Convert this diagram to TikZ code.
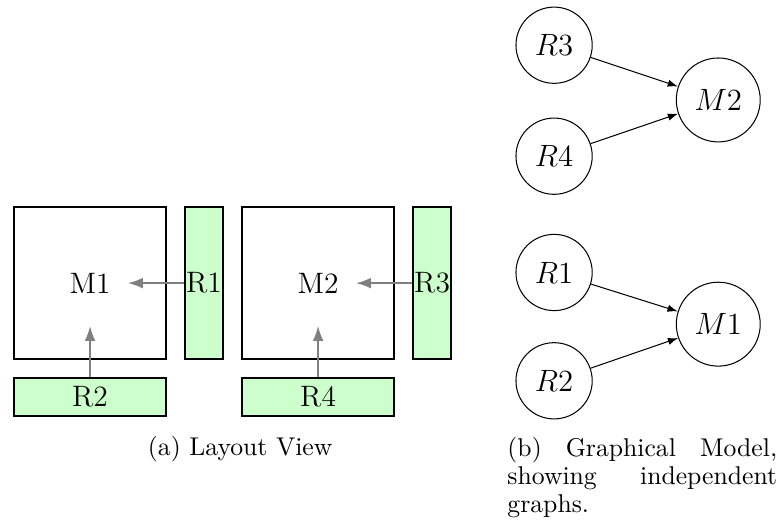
\documentclass[tikz,border=0pt]{standalone}
\usetikzlibrary{arrows.meta,positioning}
\definecolor{resGreen}{HTML}{CCFFCC}
\definecolor{flowGray}{HTML}{808080}
\tikzset{
  lay box/.style={draw=black, line width=0.7pt, minimum width=4*0.52cm, minimum height=4*0.52cm, inner sep=0pt, font=\fontsize{11.5}{13}\selectfont},
  lay vbar/.style={draw=black, fill=resGreen, line width=0.7pt, minimum width=0.52cm, minimum height=4*0.52cm, inner sep=0pt, font=\fontsize{11.5}{13}\selectfont},
  lay hbar/.style={draw=black, fill=resGreen, line width=0.7pt, minimum width=4*0.52cm, minimum height=0.52cm, inner sep=0pt, font=\fontsize{11.5}{13}\selectfont},
  lay flow/.style={draw=flowGray, line width=0.6pt, -{Latex[length=5.8pt, width=4.2pt]}},
  gm node/.style={circle, draw=black, line width=0.4pt, inner sep=4.6pt, font=\fontsize{11.5}{13}\selectfont},
  gm edge/.style={draw=black, line width=0.4pt, -{Latex[length=4pt, width=2.8pt]}},
  sub caption/.style={font=\fontsize{10}{10.9}\selectfont, inner sep=0pt},
}
\begin{document}
\begin{tikzpicture}[x=0.52cm, y=0.52cm]
  \useasboundingbox (-0.37,-4.29) rectangle (20.26,9.45);
  % (a) layout: two modules, each with a side and a bottom resource
  \node[lay box] (M1box) at (2,2) {M1};
  \node[lay vbar] (R1bar) at (5,2) {R1};
  \node[lay hbar] (R2bar) at (2,-1) {R2};
  \node[lay box] (M2box) at (8,2) {M2};
  \node[lay vbar] (R3bar) at (11,2) {R3};
  \node[lay hbar] (R4bar) at (8,-1) {R4};
  \coordinate (M1side) at (3,2);
  \coordinate (M1below) at (2,0.87);
  \coordinate (M2side) at (9,2);
  \coordinate (M2below) at (8,0.87);
  \draw[lay flow] (R1bar.west) -- (M1side);
  \draw[lay flow] (R2bar.north) -- (M1below);
  \draw[lay flow] (R3bar.west) -- (M2side);
  \draw[lay flow] (R4bar.north) -- (M2below);
  \node[sub caption, anchor=base] (capA) at (5.95,-2.53) {(a) Layout View};
  % (b) graphical model: one graph per module
  \node[gm node] (gR3) at (14.21,8.26) {$R3$};
  \node[gm node] (gR4) at (14.21,5.34) {$R4$};
  \node[gm node] (gM2) at (18.53,6.82) {$M2$};
  \node[gm node] (gR1) at (14.21,2.28) {$R1$};
  \node[gm node] (gR2) at (14.21,-0.57) {$R2$};
  \node[gm node] (gM1) at (18.53,0.92) {$M1$};
  \draw[gm edge] (gR3) -- (gM2);
  \draw[gm edge] (gR4) -- (gM2);
  \draw[gm edge] (gR1) -- (gM1);
  \draw[gm edge] (gR2) -- (gM1);
  \node[sub caption, anchor=north west, text width=105pt, align=justify] (capB) at (12.97,-2.05)
    {(b) Graphical Model, showing independent graphs.};
\end{tikzpicture}
\end{document}
